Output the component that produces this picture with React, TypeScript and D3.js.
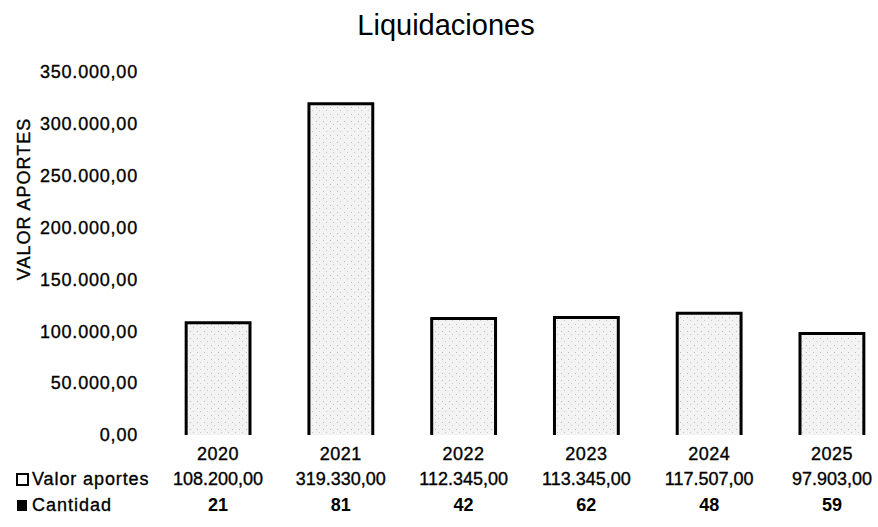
import React from "react";
import * as d3 from "d3";

const years = ["2020", "2021", "2022", "2023", "2024", "2025"];
const valorAportes = [108200, 319330, 112345, 113345, 117507, 97903];
const cantidad = [21, 81, 42, 62, 48, 59];
const yTicks = [0, 50000, 100000, 150000, 200000, 250000, 300000, 350000];

const W = 878;
const H = 527;
const FONT = "'Liberation Sans', Arial, Helvetica, sans-serif";

const locale = d3.formatLocale({
  decimal: ",",
  thousands: ".",
  grouping: [3],
  currency: ["", ""],
});
const fmt = locale.format(",.2f");

const ink = { fill: "#000", stroke: "#000", strokeWidth: 0.35 };

export default function App() {
  const x = d3
    .scaleBand<string>()
    .domain(years)
    .range([156.7, 893.3])
    .paddingInner(0.48)
    .paddingOuter(0.24);
  const y = d3.scaleLinear().domain([0, 350000]).range([435, 72]);
  const bw = x.bandwidth();

  return (
    <svg
      width={W}
      height={H}
      style={{ position: "absolute", left: 0, top: 0, background: "#fff" }}
      fontFamily={FONT}
    >
      <defs>
        <pattern id="speck" width="7" height="7" patternUnits="userSpaceOnUse">
          <rect width="7" height="7" fill="#f3f3f3" />
          <rect x="1" y="2" width="1" height="1" fill="#bbb" />
          <rect x="4" y="5" width="1" height="1" fill="#c8c8c8" />
        </pattern>
      </defs>
      <rect width={W} height={H} fill="#fff" />
      <text x={446} y={35} textAnchor="middle" fontSize={29} fill="#000">
        Liquidaciones
      </text>
      <text
        transform={`translate(30,199) rotate(-90)`}
        textAnchor="middle"
        fontSize={18}
        letterSpacing={1}
        {...ink}
      >
        VALOR APORTES
      </text>
      {yTicks.map((t) => (
        <text
          key={t}
          x={138}
          y={y(t)}
          dy="0.35em"
          textAnchor="end"
          fontSize={18}
          letterSpacing={0.8}
          {...ink}
        >
          {fmt(t)}
        </text>
      ))}
      {years.map((yr, i) => {
        const x0 = x(yr)!;
        const x1 = x0 + bw;
        const top = y(valorAportes[i]);
        const base = y(0);
        return (
          <g key={yr}>
            <rect x={x0} y={top} width={bw} height={base - top} fill="url(#speck)" />
            <path
              d={`M${x0},${base}V${top}H${x1}V${base}`}
              fill="none"
              stroke="#000"
              strokeWidth={3}
            />
          </g>
        );
      })}
      {years.map((yr) => (
        <text
          key={"l" + yr}
          x={x(yr)! + bw / 2}
          y={460}
          textAnchor="middle"
          fontSize={18}
          letterSpacing={0.5}
          {...ink}
        >
          {yr}
        </text>
      ))}
      {years.map((yr, i) => (
        <text
          key={"v" + yr}
          x={x(yr)! + bw / 2}
          y={485}
          textAnchor="middle"
          fontSize={18}
          {...ink}
        >
          {fmt(valorAportes[i])}
        </text>
      ))}
      {years.map((yr, i) => (
        <text
          key={"c" + yr}
          x={x(yr)! + bw / 2}
          y={511}
          textAnchor="middle"
          fontSize={18}
          fontWeight="bold"
          fill="#000"
        >
          {cantidad[i]}
        </text>
      ))}
      <rect x={17} y={474} width={11} height={11} fill="#fff" stroke="#000" strokeWidth={2} />
      <text x={32} y={485} fontSize={18} letterSpacing={0.9} {...ink}>
        Valor aportes
      </text>
      <rect x={17} y={500} width={10} height={11} fill="#000" />
      <text x={32} y={511} fontSize={18} letterSpacing={1} {...ink}>
        Cantidad
      </text>
    </svg>
  );
}
